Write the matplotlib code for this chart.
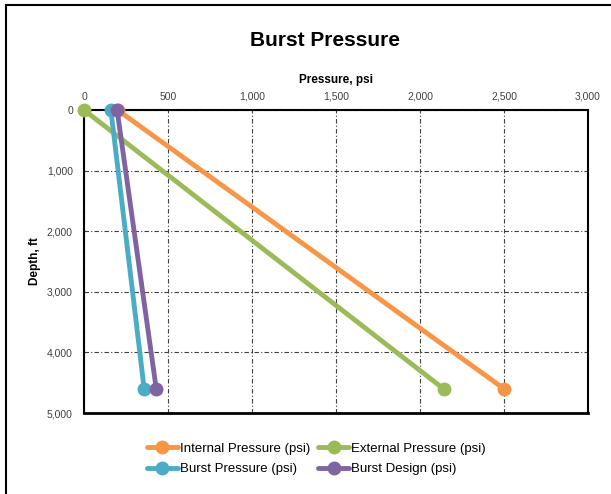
import matplotlib.pyplot as plt
from matplotlib.patches import Rectangle
from matplotlib.ticker import FuncFormatter

plt.rcParams['font.family'] = ['Liberation Sans', 'DejaVu Sans']

# ============================================================
# DATA
# ============================================================
depth = [0, 4600]
internal = [200, 2500]
external = [0, 2140]
burst = [160, 358]
burst_design = [197, 430]

series = [
    ("Internal Pressure (psi)", internal, '#f79646'),
    ("External Pressure (psi)", external, '#9bbb59'),
    ("Burst Pressure (psi)", burst, '#4bacc6'),
    ("Burst Design (psi)", burst_design, '#8064a2'),
]

x_ticks = [0, 500, 1000, 1500, 2000, 2500, 3000]
y_ticks = [0, 1000, 2000, 3000, 4000, 5000]

# ============================================================
# CHART
# ============================================================
fig = plt.figure(figsize=(6.11, 4.94), dpi=100)
ax = fig.add_axes([84/611, (494-413)/494, 504/611, 303/494])

lines = []
for label, vals, color in series:
    ln, = ax.plot(vals, depth, color=color, linewidth=3.5, marker='o',
                  markersize=9, label=label, solid_capstyle='round',
                  zorder=3, clip_on=False)
    lines.append(ln)

ax.set_xlim(0, 3000)
ax.set_ylim(5000, 0)
ax.set_xticks(x_ticks)
ax.set_yticks(y_ticks)
fmt = FuncFormatter(lambda v, p: f'{int(v):,}')
ax.xaxis.set_major_formatter(fmt)
ax.yaxis.set_major_formatter(fmt)
ax.xaxis.tick_top()
ax.tick_params(axis='both', length=0, labelsize=7.5, colors='#404040', pad=6)
ax.tick_params(axis='y', pad=8)

ax.grid(True, color='#404040', linestyle=(0, (4, 2, 1, 2)), linewidth=0.8)
for s in ax.spines.values():
    s.set_linewidth(1.5)
ax.spines['bottom'].set_linewidth(2)

ax.set_xlabel('Pressure, psi', fontsize=8.5, fontweight='bold', labelpad=6)
ax.xaxis.set_label_position('top')
ax.set_ylabel('Depth, ft', fontsize=8.5, fontweight='bold', labelpad=4)

fig.text(325/611, 1 - 40/494, 'Burst Pressure', ha='center', va='center',
         fontsize=15, fontweight='bold')

# legend filled row by row
order = [0, 2, 1, 3]
ax.legend([lines[i] for i in order], [series[i][0] for i in order],
          loc='upper center', bbox_to_anchor=(316/611, 1 - 431/494),
          bbox_transform=fig.transFigure, ncol=2, frameon=False,
          fontsize=9.5, handlelength=2.4, handletextpad=0.1, columnspacing=0.6,
          labelspacing=0.6)

# outer chart border
fig.patches.append(Rectangle((6/611, -0.1), 1.2, 1 - 5/494 + 0.1,
                             transform=fig.transFigure, fill=False,
                             edgecolor='black', linewidth=1.5))

plt.savefig('out.png', dpi=100, facecolor='white')
